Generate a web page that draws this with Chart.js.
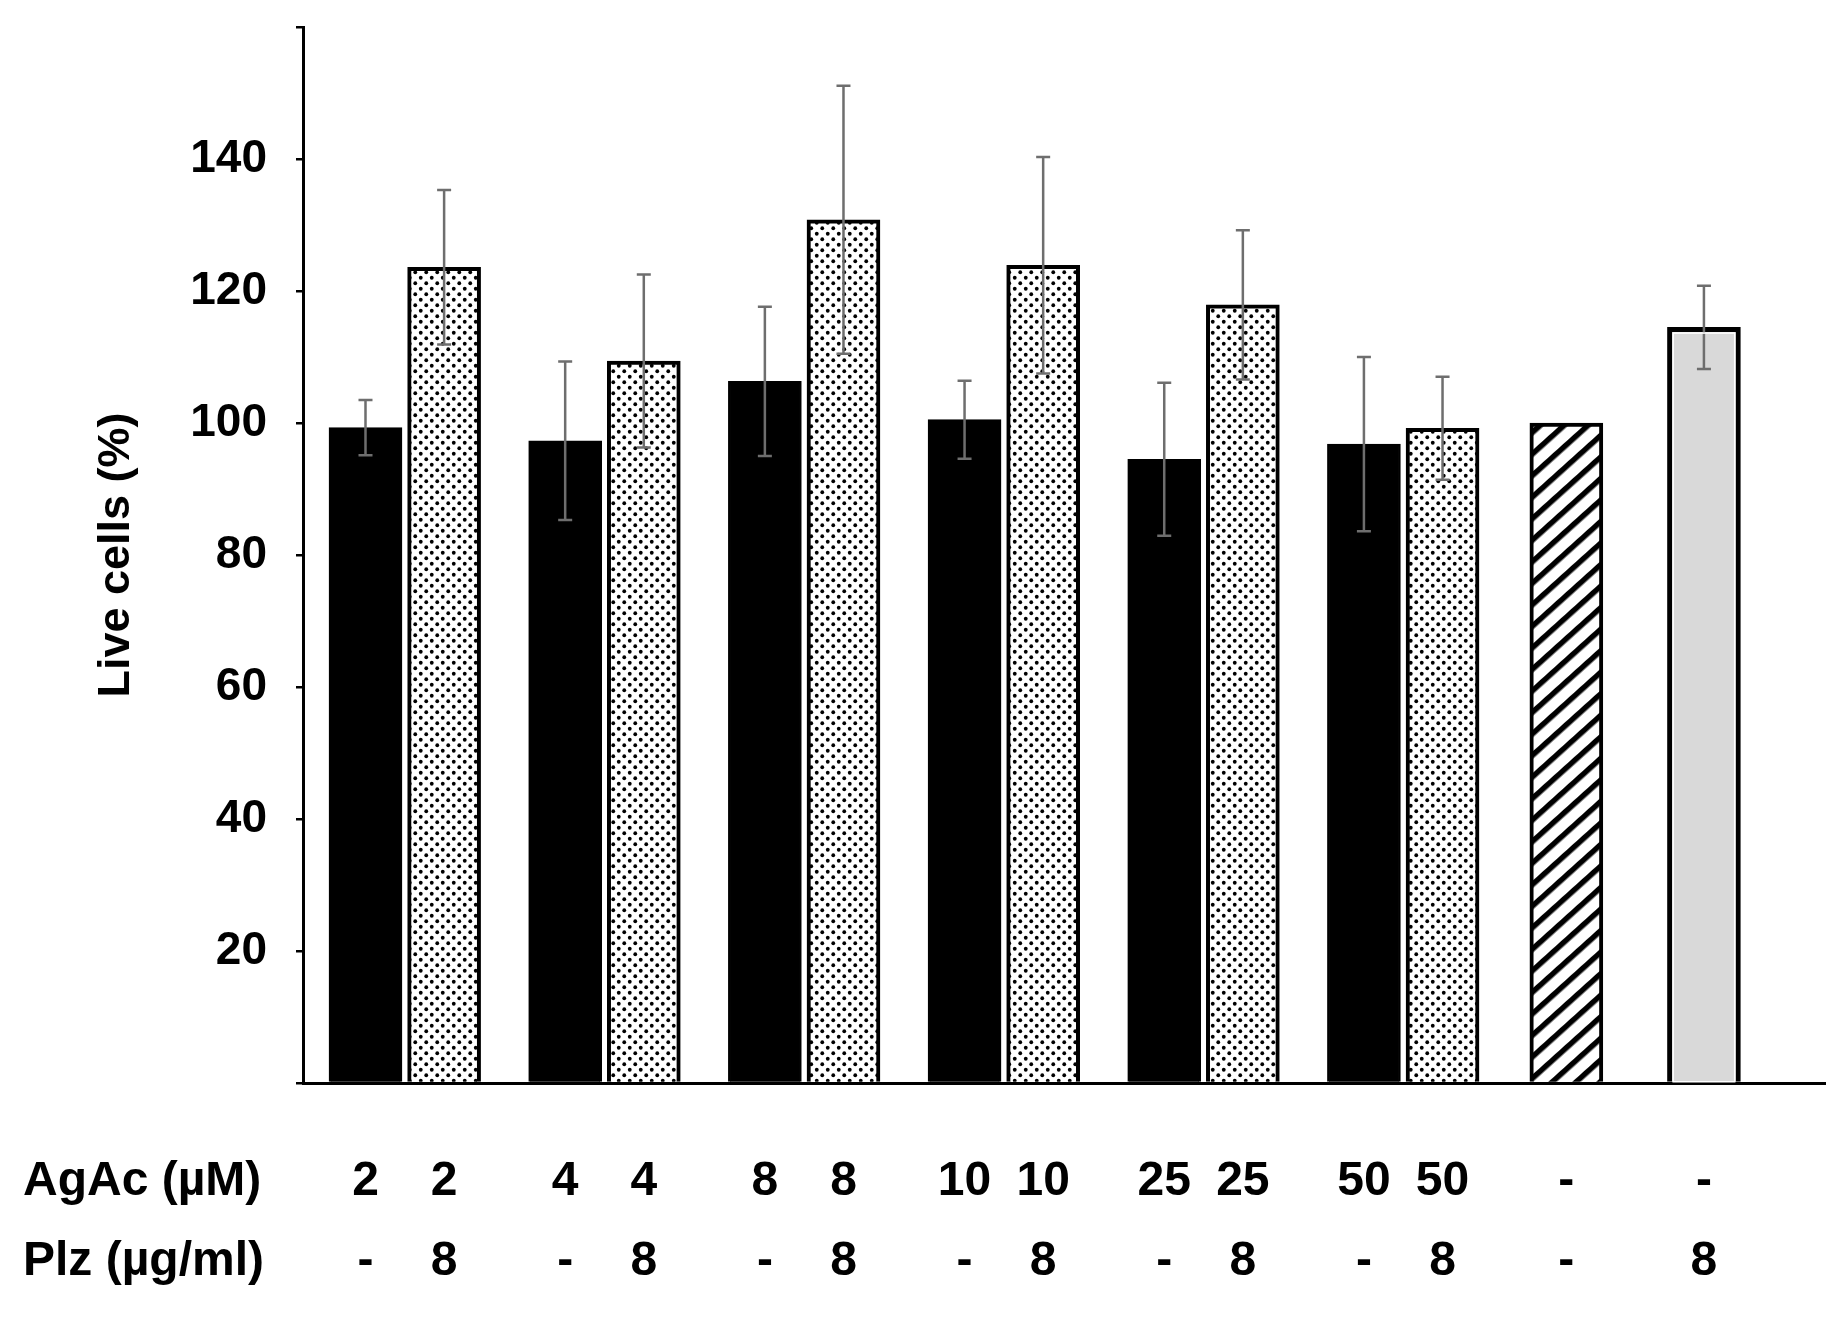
<!DOCTYPE html>
<html>
<head>
<meta charset="utf-8">
<title>Live cells</title>
<script src="https://cdn.jsdelivr.net/npm/chart.js@4.4.1/dist/chart.umd.min.js"></script>
<style>
  html, body { margin: 0; padding: 0; background: #fff; }
  canvas { display: block; }
</style>
</head>
<body>
<canvas id="chart" width="1829" height="1318"></canvas>
<script>
// --- data ---
const agacAlone    = [99.3, 97.3, 106.3, 100.5, 94.5, 96.8];
const agacAloneErr = [4.2, 12.0, 11.3, 5.9, 11.6, 13.2];
const agacPlz      = [123.6, 109.4, 130.8, 123.9, 117.9, 99.2];
const agacPlzErr   = [11.7, 13.1, 20.3, 16.4, 11.3, 7.8];
const controlVal   = [100];
const plzOnlyVal   = [114.5];
const plzOnlyErr   = [6.3];

// tick label rows (one entry per bar, left to right)
const agacRow = ['2', '2', '4', '4', '8', '8', '10', '10', '25', '25', '50', '50', '-', '-'];
const plzRow  = ['-', '8', '-', '8', '-', '8', '-', '8', '-', '8', '-', '8', '-', '8'];
const rowTitles = ['AgAc (\u00b5M)', 'Plz (\u00b5g/ml)'];
const yTicks = [0, 20, 40, 60, 80, 100, 120, 140, 160];

// --- layout: where each bar sits on the x axis (1 unit = bar pitch inside a pair) ---
const FIRST = 0.795, PAIR_STEP = 2.54, X_MAX = 19.36;
const pairSlots = [];
agacAlone.forEach((_, i) => {
    pairSlots.push(FIRST + i * PAIR_STEP, FIRST + i * PAIR_STEP + 1);
});
const controlSlot = pairSlots[pairSlots.length - 1] + 1.575;
const plzOnlySlot = controlSlot + 1.75;
const allSlots = pairSlots.concat([controlSlot, plzOnlySlot]);

// --- fill patterns ---
function dotPattern() {
    const c = document.createElement('canvas');
    c.width = 11; c.height = 11;
    const g = c.getContext('2d');
    g.fillStyle = '#fff';
    g.fillRect(0, 0, 11, 11);
    g.fillStyle = '#000';
    [[2.75, 2.75], [8.25, 8.25]].forEach(([x, y]) => {
        g.beginPath(); g.arc(x, y, 1.9, 0, Math.PI * 2); g.fill();
    });
    return g.createPattern(c, 'repeat');
}
function hatchPattern() {
    const c = document.createElement('canvas');
    c.width = 20; c.height = 16;
    const g = c.getContext('2d');
    g.fillStyle = '#fff';
    g.fillRect(0, 0, 20, 16);
    g.fillStyle = '#000';
    g.fillRect(0, 0, 20, 5.5);
    const p = g.createPattern(c, 'repeat');
    p.setTransform(new DOMMatrix().rotateSelf(0, 0, -42));
    return p;
}

const FONT = "'Liberation Sans', Arial, Helvetica, sans-serif";
const TICK_PAD = 59, ROW_LH = 80;

// error bars drawn through the y scale
const errorBars = {
    id: 'errorBars',
    afterDatasetsDraw(chart) {
        const ctx = chart.ctx, y = chart.scales.y;
        ctx.save();
        ctx.strokeStyle = '#6e6e6e';
        ctx.lineWidth = 2.5;
        chart.data.datasets.forEach((ds, i) => {
            if (!ds.errors) return;
            chart.getDatasetMeta(i).data.forEach((bar, j) => {
                const v = ds.data[j].y, e = ds.errors[j];
                const top = y.getPixelForValue(v + e), bot = y.getPixelForValue(v - e);
                ctx.beginPath();
                ctx.moveTo(bar.x, top); ctx.lineTo(bar.x, bot);
                ctx.moveTo(bar.x - 7, top); ctx.lineTo(bar.x + 7, top);
                ctx.moveTo(bar.x - 7, bot); ctx.lineTo(bar.x + 7, bot);
                ctx.stroke();
            });
        });
        ctx.restore();
    }
};

// thin white inner line on the grey bar, and the row titles under the axis
const extras = {
    id: 'extras',
    beforeDatasetsDraw(chart) {},
    afterDatasetsDraw(chart) {
        const ctx = chart.ctx;
        const meta = chart.getDatasetMeta(3);
        ctx.save();
        ctx.strokeStyle = '#fff';
        ctx.lineWidth = 1.5;
        meta.data.forEach(bar => {
            const l = bar.x - bar.width / 2 + 5.75, r = bar.x + bar.width / 2 - 5.75;
            ctx.strokeRect(l, bar.y + 5.75, r - l, bar.base - bar.y - 5.75);
        });
        ctx.restore();
    },
    afterDraw(chart) {
        const ctx = chart.ctx, xs = chart.scales.x;
        ctx.save();
        ctx.fillStyle = '#000';
        ctx.font = 'bold 48px ' + FONT;
        ctx.textAlign = 'left';
        ctx.textBaseline = 'middle';
        rowTitles.forEach((t, i) => {
            ctx.fillText(t, 23, xs.top + TICK_PAD + ROW_LH / 2 + i * ROW_LH);
        });
        ctx.restore();
    }
};

const toPoints = (slots, vals) => vals.map((v, i) => ({ x: slots[i], y: v }));

new Chart(document.getElementById('chart'), {
    type: 'bar',
    data: {
        datasets: [{
            label: 'AgAc',
            data: toPoints(pairSlots.filter((_, i) => i % 2 === 0), agacAlone),
            errors: agacAloneErr,
            backgroundColor: '#000',
            borderColor: '#000',
            borderWidth: 2
        }, {
            label: 'AgAc + Plz',
            data: toPoints(pairSlots.filter((_, i) => i % 2 === 1), agacPlz),
            errors: agacPlzErr,
            backgroundColor: dotPattern(),
            borderColor: '#000',
            borderWidth: 4
        }, {
            label: 'Control',
            data: toPoints([controlSlot], controlVal),
            backgroundColor: hatchPattern(),
            borderColor: '#000',
            borderWidth: 4
        }, {
            label: 'Plz',
            data: toPoints([plzOnlySlot], plzOnlyVal),
            errors: plzOnlyErr,
            backgroundColor: '#d9d9d9',
            borderColor: '#000',
            borderWidth: 5
        }]
    },
    options: {
        responsive: false,
        animation: false,
        layout: { padding: { top: 27, right: 4, left: 0, bottom: 0 } },
        datasets: { bar: { barThickness: 73, grouped: false } },
        plugins: { legend: { display: false }, tooltip: { enabled: false } },
        scales: {
            x: {
                type: 'linear',
                min: 0,
                max: X_MAX,
                offset: false,
                grid: { display: false, drawTicks: false },
                border: { display: true, color: '#000', width: 3 },
                afterBuildTicks: s => { s.ticks = allSlots.map(v => ({ value: v })); },
                afterFit: s => { s.height = 235; s.paddingLeft = 0; s.paddingRight = 0; },
                ticks: {
                    autoSkip: false,
                    maxRotation: 0,
                    minRotation: 0,
                    padding: TICK_PAD,
                    color: '#000',
                    font: { family: FONT, size: 48, weight: 'bold', lineHeight: ROW_LH / 48 },
                    callback: (v, i) => [agacRow[i], plzRow[i]]
                }
            },
            y: {
                min: 0,
                max: 160,
                afterBuildTicks: s => { s.ticks = yTicks.map(v => ({ value: v })); },
                afterFit: s => { s.width = 303; s.paddingTop = 0; s.paddingBottom = 0; },
                grid: { display: true, drawOnChartArea: false, drawTicks: true, tickLength: 7, color: '#000', lineWidth: 2.5 },
                border: { display: true, color: '#000', width: 3 },
                ticks: {
                    padding: 29,
                    color: '#000',
                    font: { family: FONT, size: 46, weight: 'bold', lineHeight: 1 },
                    callback: v => (v === 0 || v === 160) ? '' : String(v)
                },
                title: {
                    display: true,
                    text: 'Live cells (%)',
                    color: '#000',
                    font: { family: FONT, size: 45, weight: 'bold' },
                    padding: { top: 90, bottom: 0 }
                }
            }
        }
    },
    plugins: [errorBars, extras]
});
</script>
</body>
</html>
